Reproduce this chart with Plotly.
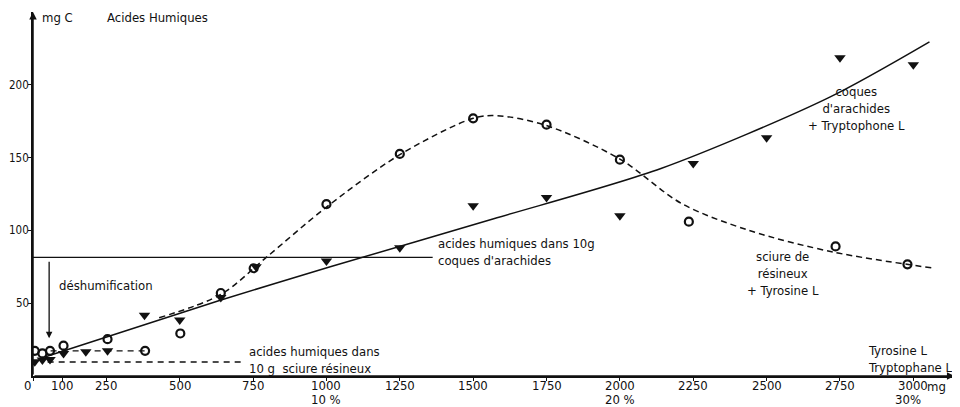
import plotly.graph_objects as go

# ---- data ----
# sciure de résineux + Tyrosine L (open circles)
circ_x = [6, 32, 58, 104, 254, 382, 502, 640, 752, 1000, 1250, 1500, 1750, 2000, 2235, 2735, 2980]
circ_y = [17.3, 15.5, 17.3, 20.8, 25.3, 17.3, 29.2, 57, 74, 118, 152.5, 177, 172.6, 148.6, 106, 89, 76.7]

# coques d'arachides + Tryptophane L (filled triangles)
tri_x = [6, 32, 58, 104, 180, 254, 380, 500, 640, 760, 1000, 1250, 1500, 1750, 2000, 2250, 2500, 2750, 3000]
tri_y = [9.8, 11, 11.4, 15.5, 16.6, 17.3, 41.8, 38.4, 54, 75, 79, 88, 117, 122.6, 110, 146, 163.7, 218.5, 213.7]

# hand-drawn fitted curves
solid_x = [40, 638, 1013, 1570, 2140, 2710, 3055]
solid_y = [13, 52, 75, 108, 142.5, 191, 229.5]

dash_x = [430, 640, 795, 1000, 1250, 1500, 1580, 1750, 2000, 2210, 2440, 2730, 3072]
dash_y = [40, 56, 81.5, 116, 152, 177, 178.8, 172, 149, 118.5, 100, 85, 74]

low_dash_x = [60, 382]
low_dash_y = [17.3, 17.3]

ref_coques_x = [0, 1362]
ref_coques_y = [81.5, 81.5]

ref_sciure_x = [50, 717]
ref_sciure_y = [9.6, 9.6]

x_ticks = [0, 100, 250, 500, 750, 1000, 1250, 1500, 1750, 2000, 2250, 2500, 2750, 3000]
x_tick_text = ["0", "100", "250", "500", "750", "1000", "1250", "1500", "1750", "2000", "2250", "2500", "2750", "3000"]
pct_ticks = [1000, 2000, 2982]
pct_text = ["10 %", "20 %", "30%"]
y_ticks = [50, 100, 150, 200]
y_tick_text = ["50", "100", "150", "200"]

FONT = "Liberation Sans Narrow, DejaVu Sans Condensed, Arial Narrow, sans-serif"
BLK = "#111111"
FS = 13

fig = go.Figure()

fig.add_trace(go.Scatter(x=ref_coques_x, y=ref_coques_y, mode="lines",
                         line=dict(color=BLK, width=1.4), hoverinfo="skip"))
fig.add_trace(go.Scatter(x=ref_sciure_x, y=ref_sciure_y, mode="lines",
                         line=dict(color=BLK, width=1.3, dash="6px,5px"), hoverinfo="skip"))
fig.add_trace(go.Scatter(x=low_dash_x, y=low_dash_y, mode="lines",
                         line=dict(color=BLK, width=1.3, dash="6px,5px"), hoverinfo="skip"))
fig.add_trace(go.Scatter(x=solid_x, y=solid_y, mode="lines", line_shape="spline",
                         line=dict(color=BLK, width=1.5, smoothing=0.8), hoverinfo="skip"))
fig.add_trace(go.Scatter(x=dash_x, y=dash_y, mode="lines", line_shape="spline",
                         line=dict(color=BLK, width=1.5, dash="6px,4px", smoothing=0.9), hoverinfo="skip"))
fig.add_trace(go.Scatter(x=tri_x, y=tri_y, mode="markers",
                         marker=dict(symbol="triangle-down", size=10, color=BLK)))
fig.add_trace(go.Scatter(x=circ_x, y=circ_y, mode="markers",
                         marker=dict(symbol="circle-open", size=8, color=BLK,
                                     line=dict(width=2.2, color=BLK))))

ann = []
def txt(x, y, s, xa="left", size=FS, align="left", ya="middle", xref="x", yref="y", pad=1):
    ann.append(dict(x=x, y=y, xref=xref, yref=yref, text=s, showarrow=False,
                    xanchor=xa, yanchor=ya, align=align, borderpad=pad,
                    font=dict(family=FONT, size=size, color=BLK)))

# axis arrows
ann.append(dict(x=0, y=250, ax=0, ay=0, xref="x", yref="y", axref="x", ayref="y",
                text="", showarrow=True, arrowhead=2, arrowsize=1, arrowwidth=1.5, arrowcolor=BLK))
ann.append(dict(x=3140, y=0, ax=0, ay=0, xref="x", yref="y", axref="x", ayref="y",
                text="", showarrow=True, arrowhead=2, arrowsize=1, arrowwidth=1.5, arrowcolor=BLK))
# déshumification arrow
ann.append(dict(x=55, y=26, ax=55, ay=79.5, xref="x", yref="y", axref="x", ayref="y",
                text="", showarrow=True, arrowhead=2, arrowsize=1, arrowwidth=1.3, arrowcolor=BLK))

txt(24, 246.5, "mg C")
txt(246, 246.5, "Acides Humiques")
txt(82, 62, "déshumification")
txt(1375, 85, "acides humiques dans 10g<br>coques d'arachides")
txt(730, 11, "acides humiques dans<br>10 g  sciure résineux")
txt(2805, 184, "coques<br>d'arachides<br>+ Tryptophone L", xa="center", align="center")
txt(2556, 70.5, "sciure de<br>résineux<br>+ Tyrosine L", xa="center", align="center")
txt(0.903, 0.047, "Tyrosine L<br>Tryptophane L", xref="paper", yref="paper")

# y tick labels as text (kept inside the page)
for v, t in zip(y_ticks, y_tick_text):
    txt(-0.0035, v, t, xa="right", size=11.5, xref="paper", pad=0)

# x tick labels as text
for v, t in zip(x_ticks, x_tick_text):
    if v == 0:
        txt(-0.006, -0.027, t, xa="center", xref="paper", yref="paper")
    else:
        txt(v, -0.027, t, xa="center", yref="paper")
for v, t in zip(pct_ticks, pct_text):
    txt(v, -0.064, t, xa="center", yref="paper")
txt(3040, -0.03, "mg", yref="paper")

# page body has an 8px margin: the figure is sized/offset to compensate
fig.update_layout(
    width=952, height=399,
    margin=dict(l=25, r=5, t=4, b=31),
    paper_bgcolor="white", plot_bgcolor="white",
    showlegend=False,
    annotations=ann,
    font=dict(family=FONT, size=FS, color=BLK),
    xaxis=dict(range=[0, 3142], tickvals=x_ticks, showticklabels=False, automargin=False,
               showgrid=False, zeroline=False, showline=True, linecolor=BLK, linewidth=1.5,
               ticks="outside", ticklen=3, tickcolor=BLK),
    yaxis=dict(range=[0, 250], tickvals=y_ticks, showticklabels=False, automargin=False,
               showgrid=False, zeroline=False, showline=True, linecolor=BLK, linewidth=1.5,
               ticks="outside", ticklen=3, tickcolor=BLK),
)

fig.write_html("out.html")
